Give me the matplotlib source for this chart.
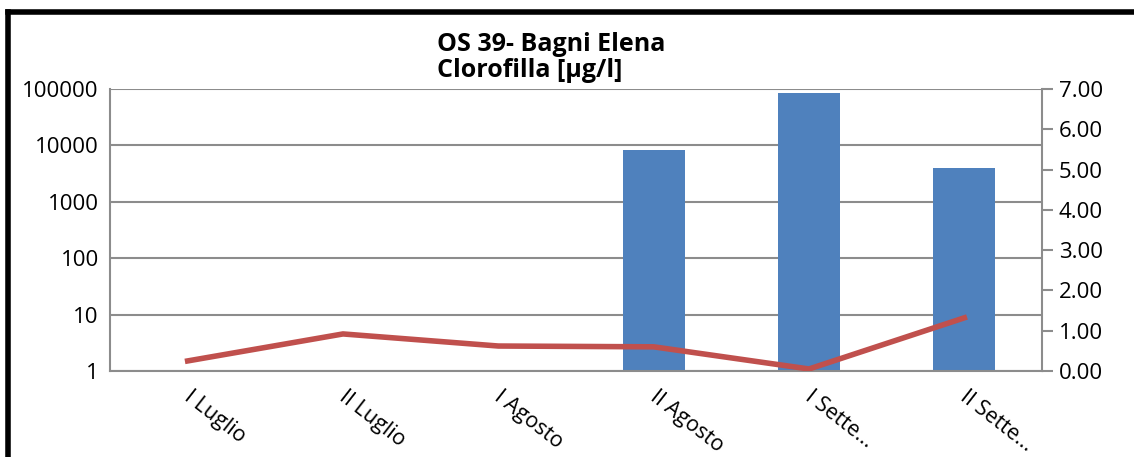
import numpy as np
import matplotlib.pyplot as plt
from matplotlib.lines import Line2D

plt.rcParams['font.family'] = ['Open Sans', 'DejaVu Sans']

# data
categories = ['I Luglio', 'II Luglio', 'I Agosto', 'II Agosto', 'I Sette...', 'II Sette...']
bar_values = [np.nan, np.nan, np.nan, 8300, 85000, 4000]   # left axis, log
line_values = [0.25, 0.92, 0.62, 0.60, 0.05, 1.32]          # right axis

blue = '#4F81BD'
red = '#C0504D'
grey = '#8C8C8C'

fig = plt.figure(figsize=(11.34, 4.57), dpi=100)
ax = fig.add_axes([110/1134, 86/457, 932/1134, 282/457])

x = np.arange(len(categories))
ax.bar(x, bar_values, width=0.4, color=blue, zorder=2)
ax.set_yscale('log')
ax.set_ylim(1, 100000)
ax.set_xlim(-0.5, len(categories) - 0.5)
ax.set_yticks([1, 10, 100, 1000, 10000, 100000])
ax.set_yticklabels(['1', '10', '100', '1000', '10000', '100000'])
ax.minorticks_off()
ax.yaxis.grid(True, color=grey, linewidth=1.5)
ax.set_axisbelow(True)
ax.tick_params(axis='y', length=0, labelsize=16, pad=8)
ax.tick_params(axis='x', length=0)
ax.set_xticks(x)
ax.set_xticklabels([])
for s in ['left', 'bottom']:
    ax.spines[s].set_color(grey)
    ax.spines[s].set_linewidth(1.5)
for s in ['top', 'right']:
    ax.spines[s].set_visible(False)

# category labels, rotated
for i, c in enumerate(categories):
    ax.annotate(c, xy=(i, 0), xycoords=('data', 'axes fraction'),
                xytext=(3.5, -11), textcoords='offset points',
                rotation=-38, rotation_mode='anchor', ha='left', va='top',
                fontsize=15.5)

ax2 = ax.twinx()
ax2.plot(x, line_values, color=red, linewidth=4, solid_joinstyle='miter', zorder=3)
ax2.set_ylim(0, 7)
ax2.set_yticks(np.arange(0, 8, 1))
ax2.set_yticklabels(['%.2f' % v for v in np.arange(0, 8, 1)])
ax2.tick_params(axis='y', length=8, width=1.5, color=grey, labelsize=16, pad=4)
for s in ['left', 'top', 'bottom']:
    ax2.spines[s].set_visible(False)
ax2.spines['right'].set_color(grey)
ax2.spines['right'].set_linewidth(1.5)

fig.text(437/1134, 1 - 32/457, 'OS 39- Bagni Elena\nClorofilla [µg/l]',
         ha='left', va='top', fontsize=18, fontweight='bold', linespacing=1.05)

# black frame (left and top edges)
fig.add_artist(Line2D([7.5/1134, 7.5/1134], [0, 1 - 12/457], transform=fig.transFigure,
                      color='black', linewidth=4, solid_capstyle='projecting'))
fig.add_artist(Line2D([7.5/1134, 1], [1 - 12/457, 1 - 12/457], transform=fig.transFigure,
                      color='black', linewidth=4, solid_capstyle='projecting'))

fig.savefig('out.png', dpi=100)
